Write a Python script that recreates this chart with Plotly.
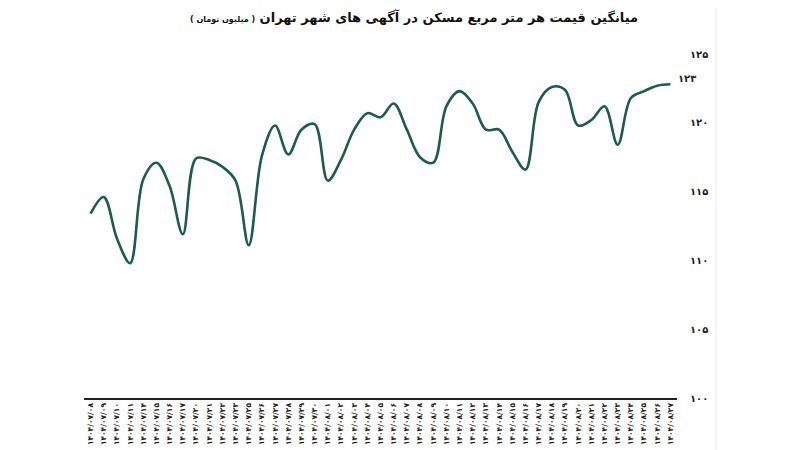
import plotly.graph_objects as go

# Persian digits helper
fa_digits = str.maketrans("0123456789", "۰۱۲۳۴۵۶۷۸۹")

def fa(s):
    return str(s).translate(fa_digits)

# Dates (1404), months 07 and 08
mehr_days = [8, 9, 10, 11, 14, 15, 16, 17, 20, 21, 22, 23, 25, 26, 27, 28, 29, 30]
aban_days = list(range(1, 28))
dates = [fa("1404/07/%02d" % d) for d in mehr_days] + [fa("1404/08/%02d" % d) for d in aban_days]

# Average price per square metre (million toman)
prices = [113.4, 114.6, 111.6, 109.8, 115.9, 117.1, 115.4, 111.9, 117.4, 117.3,
          116.8, 115.8, 111.1, 117.6, 119.8, 117.7, 119.5, 119.9, 115.8, 117.3,
          119.5, 120.7, 120.4, 121.4, 119.5, 117.5, 117.1, 121.2, 122.3, 121.4,
          119.5, 119.5, 117.9, 116.6, 121.5, 122.6, 122.4, 119.8, 120.2, 121.2,
          118.4, 121.8, 122.3, 122.7, 122.8]

y_ticks = [100, 105, 110, 115, 120, 125]

line_color = "#1e5b4e"
font_fa = "DejaVu Sans"

# the page puts the figure 8px in from the top-left, so layout is shifted back
L, R, T, B = 76, 131, 46, 60
w_plot = 800 - L - R
h_plot = 450 - T - B

def px_x(x):
    return (x - 8 - L) / w_plot

def px_y(y):
    return (450 - B - (y - 8)) / h_plot

fig = go.Figure()
fig.add_trace(go.Scatter(
    x=dates,
    y=prices,
    mode="lines",
    line=dict(color=line_color, width=2.6, shape="spline", smoothing=1.0),
    hoverinfo="x+y",
))

# end value label
fig.add_annotation(
    x=dates[-1], y=prices[-1],
    text=fa(round(prices[-1])),
    showarrow=False, xanchor="left", yanchor="middle",
    xshift=6, yshift=6,
    font=dict(family=font_fa, size=10, color="#222", weight="bold"),
)

# title
fig.add_annotation(
    x=px_x(640), y=px_y(17), xref="paper", yref="paper",
    text="میانگین قیمت هر متر مربع مسکن در آگهی های شهر تهران"
         " <span style='font-size:8px'>( میلیون تومان )</span>",
    showarrow=False, xanchor="right", yanchor="middle",
    font=dict(family=font_fa, size=13, color="#111", weight="bold"),
)

# faint divider at the right
fig.add_shape(type="line", xref="paper", yref="paper",
              x0=px_x(716), x1=px_x(716),
              y0=px_y(460), y1=px_y(0),
              line=dict(color="#eeeeee", width=1))

fig.update_layout(
    width=800, height=450,
    margin=dict(l=L, r=R, t=T, b=B),
    paper_bgcolor="white",
    plot_bgcolor="white",
    showlegend=False,
    xaxis=dict(
        type="category",
        range=[-0.5, len(dates) - 0.5],
        tickangle=-90,
        showgrid=False,
        showline=True, linecolor="#222", linewidth=2,
        ticks="",
        tickfont=dict(family=font_fa, size=7.5, color="#222", weight="bold"),
        zeroline=False,
    ),
    yaxis=dict(
        side="right",
        range=[100, 125],
        tickvals=y_ticks,
        ticktext=[fa(v) for v in y_ticks],
        showgrid=False,
        showline=False,
        zeroline=False,
        ticks="",
        ticklabelstandoff=12,
        tickfont=dict(family=font_fa, size=10, color="#222", weight="bold"),
    ),
)

fig.write_html("out.html")
